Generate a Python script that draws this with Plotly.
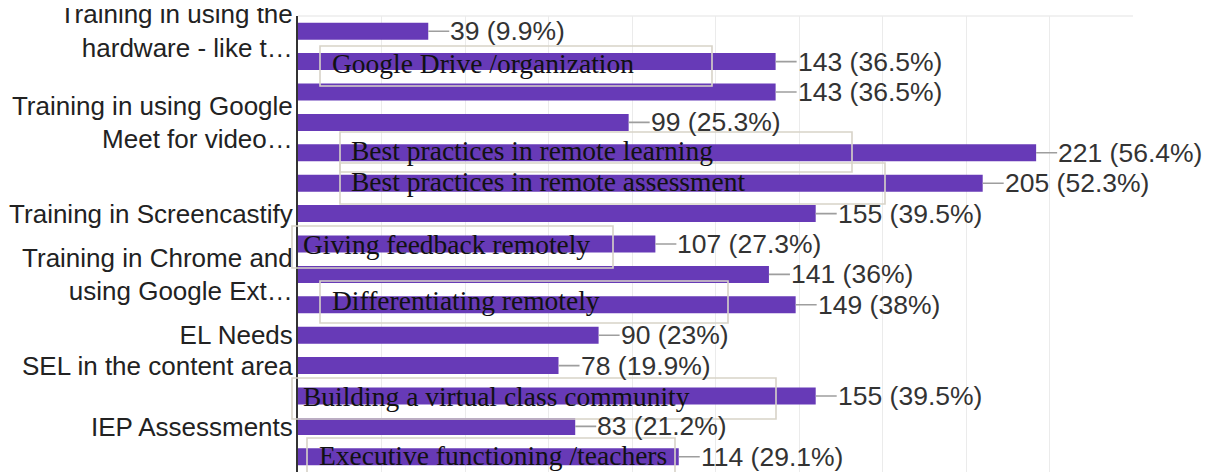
import plotly.graph_objects as go

# ---------------- data ----------------
axis_labels = [
    "Training in using the<br>hardware - like t…",
    "",
    "",
    "Training in using Google<br>Meet for video…",
    "",
    "",
    "Training in Screencastify",
    "",
    "Training in Chrome and<br>using Google Ext…",
    "",
    "EL Needs",
    "SEL in the content area",
    "",
    "IEP Assessments",
    "",
]
counts = [39, 143, 143, 99, 221, 205, 155, 107, 141, 149, 90, 78, 155, 83, 114]
percents = ["9.9%", "36.5%", "36.5%", "25.3%", "56.4%", "52.3%", "39.5%", "27.3%",
            "36%", "38%", "23%", "19.9%", "39.5%", "21.2%", "29.1%"]
overlay_texts = [
    "Google Drive /organization",
    "Best practices in remote learning",
    "Best practices in remote assessment",
    "Giving feedback remotely",
    "Differentiating remotely",
    "Building a virtual class community",
    "Executive functioning /teachers",
]

# ---------------- layout constants ----------------
OFF = 8  # default page body margin
W, H = 1210 - OFF, 472 - OFF
ML, MR, MT, MB = 298 - OFF, 77, 16 - OFF, 0
PW, PH = W - ML - MR, H - MT - MB

# overlay boxes in screen pixel coords (x0, y0, x1, y1, text_x, text_center_y)
overlay_boxes = [
    (320, 46, 712, 86, 330, 63),
    (340, 132, 852, 172, 349, 150),
    (340, 163, 885, 204, 349, 181),
    (292, 226, 613, 268, 301, 245),
    (320, 281, 728, 323, 330, 300),
    (292, 378, 776, 419, 301, 396),
    (307, 438, 675, 480, 317, 455),
]

def px2paper_x(px):
    return (px - OFF - ML) / PW

def px2paper_y(py):
    return 1 - (py - OFF - MT) / PH

n = len(counts)
ypos = list(range(n))

fig = go.Figure()
fig.add_trace(go.Bar(
    x=counts, y=ypos, orientation="h",
    marker=dict(color="#673ab7", line=dict(width=0)),
    width=0.56, hoverinfo="skip",
))

annotations = []
for i, (c, p) in enumerate(zip(counts, percents)):
    annotations.append(dict(
        x=c, y=i, xref="x", yref="y",
        text=f"{c} ({p})", showarrow=True, ax=21, ay=0,
        arrowhead=0, arrowwidth=1.6, arrowcolor="#9e9e9e", standoff=0,
        xanchor="left", yanchor="middle", borderpad=0,
        font=dict(family="Liberation Sans, Arial, sans-serif", size=26.5, color="#333333"),
    ))

shapes = [
    dict(type="line", xref="paper", yref="paper", x0=0, x1=1, y0=1, y1=1,
         line=dict(color="#e4e4e4", width=1.2), layer="below"),
]
for (x0, y0, x1, y1, tx, ty), txt in zip(overlay_boxes, overlay_texts):
    shapes.append(dict(
        type="rect", xref="paper", yref="paper",
        x0=px2paper_x(x0), x1=px2paper_x(x1), y0=px2paper_y(y1), y1=px2paper_y(y0),
        line=dict(color="#d8d3c8", width=1.6), fillcolor="rgba(0,0,0,0)", layer="above",
    ))
    annotations.append(dict(
        xref="paper", yref="paper", x=px2paper_x(tx), y=px2paper_y(ty),
        text=txt, showarrow=False, xanchor="left", yanchor="middle",
        font=dict(family="Liberation Serif, Times New Roman, serif", size=27.5, color="#111111"),
    ))

fig.update_layout(
    width=W, height=H,
    margin=dict(l=ML, r=MR, t=MT, b=MB, pad=0, autoexpand=False),
    paper_bgcolor="white", plot_bgcolor="white",
    showlegend=False,
    annotations=annotations, shapes=shapes,
    xaxis=dict(range=[0, 250], dtick=25, showgrid=True, gridcolor="#ebebeb", gridwidth=1,
               zeroline=False, showticklabels=False, showline=False, fixedrange=True,
               automargin=False),
    yaxis=dict(range=[n - 0.5, -0.5], tickvals=ypos, ticktext=axis_labels,
               showgrid=False, zeroline=False, showline=True, linecolor="#333333", linewidth=2,
               ticks="", ticklen=0, ticklabelstandoff=-2, automargin=False, ticklabeloverflow="allow",
               tickfont=dict(family="Liberation Sans, Arial, sans-serif", size=26, color="#222222")),
)

fig.write_html("out.html")
